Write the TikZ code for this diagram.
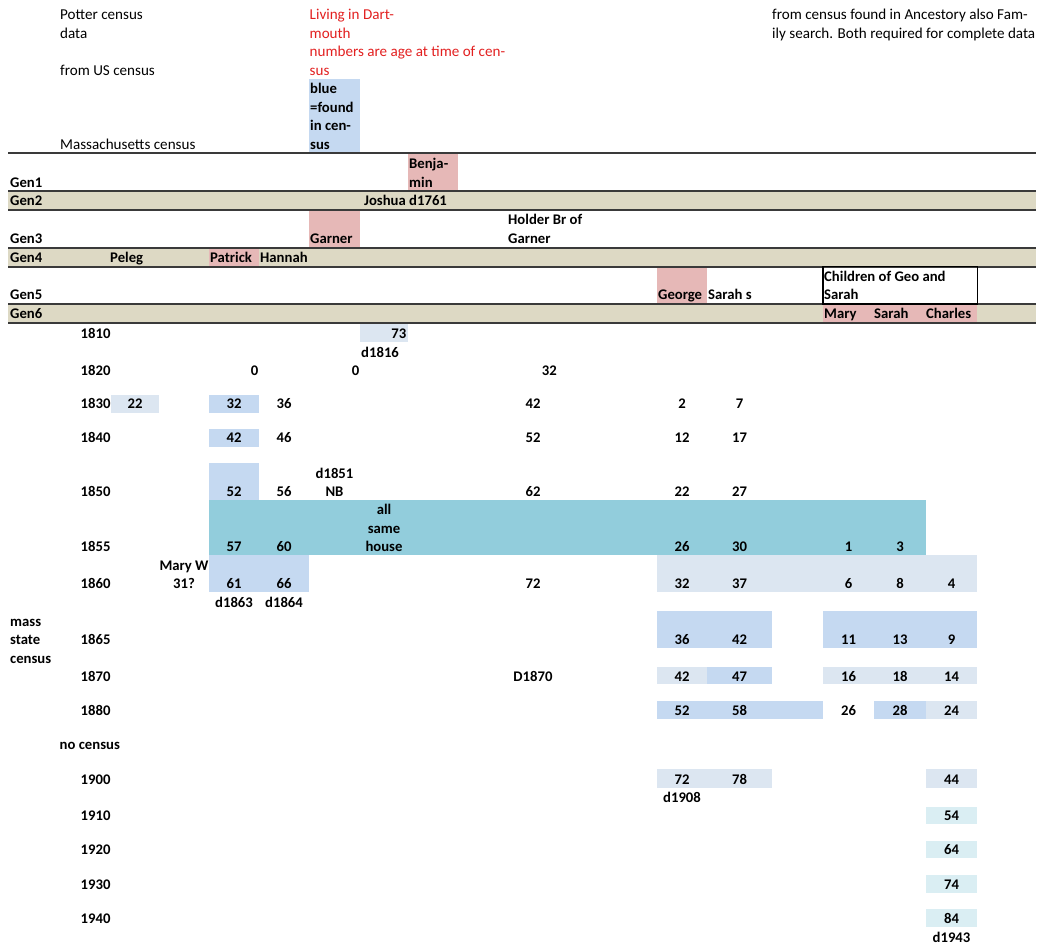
\documentclass[tikz,border=0pt]{standalone}
\usepackage{fontspec}
\setmainfont{Carlito}
\definecolor{tan}{HTML}{DDD9C4}
\definecolor{pinkc}{HTML}{E6B8B7}
\definecolor{blueA}{HTML}{C5D9F1}
\definecolor{blueB}{HTML}{DCE6F1}
\definecolor{tealc}{HTML}{92CDDC}
\definecolor{cyanL}{HTML}{DAEEF3}
\definecolor{redtxt}{RGB}{226,32,32}
\definecolor{rule}{RGB}{58,58,58}
\tikzset{
  every node/.style={inner sep=0pt, font=\fontsize{14.7}{18.5}\selectfont},
  rg/.style={font=\fontsize{15.1}{18.5}\selectfont},
  bd/.style={font=\fontsize{14.7}{18.5}\selectfont\bfseries},
  rd/.style={text=redtxt},
  L/.style={anchor=base west},
  R/.style={anchor=base east},
  C/.style={anchor=base},
  hrule/.style={draw=rule, line width=1.8pt},
}
\begin{document}
\begin{tikzpicture}[x=1pt,y=-1pt]
\useasboundingbox (0,0) rectangle (1040,946);
% ---------- fills ----------
\fill[blueA] (309,79.3) rectangle (360,153.3);
\fill[pinkc] (408,153.3) rectangle (458,190.7);
\fill[tan] (8,190.7) rectangle (1036,210.3);
\fill[pinkc] (309,210.3) rectangle (360,247.7);
\fill[tan] (8,247.7) rectangle (1036,266.7);
\fill[pinkc] (209,247.7) rectangle (259,266.7);
\fill[pinkc] (657,266.7) rectangle (707,304);
\fill[tan] (8,304) rectangle (1036,323.3);
\fill[pinkc] (823,304) rectangle (977,323.3);
\fill[blueB] (360,323.3) rectangle (408,341.7);
\fill[blueB] (111,395) rectangle (159,413);
\fill[blueA] (209,395) rectangle (259,413);
\fill[blueA] (209,429) rectangle (259,447);
\fill[blueA] (209,463) rectangle (259,500);
\fill[tealc] (209,500) rectangle (926,555);
\fill[blueA] (209,555) rectangle (309,592);
\fill[blueB] (657,555) rectangle (977,592);
\fill[blueA] (657,611) rectangle (772,648);
\fill[blueA] (823,611) rectangle (977,648);
\fill[blueB] (657,666.7) rectangle (707,684.3);
\fill[blueA] (707,666.7) rectangle (772,684.3);
\fill[blueB] (823,666.7) rectangle (977,684.3);
\fill[blueA] (657,700.7) rectangle (823,719);
\fill[blueA] (874,700.7) rectangle (926,719);
\fill[blueB] (926,700.7) rectangle (977,719);
\fill[blueB] (657,769.3) rectangle (772,787.7);
\fill[blueB] (926,769.3) rectangle (977,787.7);
\fill[cyanL] (926,806.7) rectangle (977,824.3);
\fill[cyanL] (926,840.7) rectangle (977,858.3);
\fill[cyanL] (926,875) rectangle (977,892.7);
\fill[cyanL] (926,909.3) rectangle (977,926.7);
% ---------- rules ----------
\foreach \yy in {153.3,190.7,210.3,247.7,266.7,304,323.3}
  \draw[hrule] (8,\yy) -- (1036,\yy);
\draw[black, line width=1.2pt] (823,266.7) rectangle (977.5,304);
% ---------- header texts ----------
\node[rg,L] (h1) at (60,19.5) {Potter census};
\node[rg,L] (h2) at (60,38) {data};
\node[rg,L] (h3) at (60,75) {from US census};
\node[rg,L] (h4) at (60,149) {Massachusetts census};
\node[rg,rd,L] (r1) at (309.5,19.5) {Living in Dart-};
\node[rg,rd,L] (r2) at (309.5,38) {mouth};
\node[rg,rd,L] (r3) at (309.5,56.5) {numbers are age at time of cen-};
\node[rg,rd,L] (r4) at (309.5,75) {sus};
\node[bd,L] (bl1) at (310,93.5) {blue};
\node[bd,L] (bl2) at (310,112) {=found};
\node[bd,L] (bl3) at (310,130.5) {in cen-};
\node[bd,L] (bl4) at (310,149) {sus};
\node[rg,L] (s1) at (772,19.5) {from census found in Ancestory also Fam-};
\node[rg,L] (s2) at (772,38) {ily search. Both required for complete data};
% ---------- generations ----------
\node[bd,L] (g1) at (10,187) {Gen1};
\node[bd,L] (g2) at (10,205) {Gen2};
\node[bd,L] (g3) at (10,243) {Gen3};
\node[bd,L] (g4) at (10,262) {Gen4};
\node[bd,L] (g5) at (10,299.5) {Gen5};
\node[bd,L] (g6) at (10,318.5) {Gen6};
\node[bd,L] (benj1) at (409,168.5) {Benja-};
\node[bd,L] (benj2) at (409,187) {min};
\node[bd,R] (joshua) at (406,205) {Joshua};
\node[bd,L] (d1761) at (409,205) {d1761};
\node[bd,L] (garner) at (310,243) {Garner};
\node[bd,L] (hold1) at (508,224.5) {Holder Br of};
\node[bd,L] (hold2) at (508,243) {Garner};
\node[bd,L] (peleg) at (110,262) {Peleg};
\node[bd,L] (patrick) at (210,262) {Patrick};
\node[bd,L] (hannah) at (260,262) {Hannah};
\node[bd,L] (george) at (658,299.5) {George};
\node[bd,L] (sarahs) at (708,299.5) {Sarah s};
\node[bd,L] (child1) at (824,281) {Children of Geo and};
\node[bd,L] (child2) at (824,299.5) {Sarah};
\node[bd,L] (mary) at (824,318.5) {Mary};
\node[bd,L] (sarah) at (874,318.5) {Sarah};
\node[bd,L] (charles) at (926,318.5) {Charles};
% ---------- years ----------
\foreach \yr/\yb in {1810/338,1820/375,1830/408.7,1840/442.7,1850/496,1855/551.5,1860/588.5,1865/644.5,1870/681,1880/715,1900/784,1910/820,1920/854.5,1930/889,1940/923.5}
  \node[bd,R] (y\yr) at (110.7,\yb) {\yr};
\node[bd,L] (mass1) at (10,626) {mass};
\node[bd,L] (mass2) at (10,644.5) {state};
\node[bd,L] (mass3) at (10,663) {census};
\node[bd,L] (nocensus) at (59.5,749.5) {no census};
% ---------- data ----------
% 1810
\node[bd,R] (a73) at (406.5,338) {73};
\node[bd,L] (d1816) at (361,357) {d1816};
% 1820
\node[bd,R] (a0a) at (258.5,375) {0};
\node[bd,R] (a0b) at (359.5,375) {0};
\node[bd,R] (a32k) at (557,375) {32};
% 1830
\node[bd,C] (a22) at (135,408.7) {22};
\node[bd,C] (a32e) at (234,408.7) {32};
\node[bd,C] (a36) at (284,408.7) {36};
\node[bd,C] (a42k) at (533,408.7) {42};
\node[bd,C] (a2) at (682,408.7) {2};
\node[bd,C] (a7) at (739.5,408.7) {7};
% 1840
\node[bd,C] (a42e) at (234,442.7) {42};
\node[bd,C] (a46) at (284,442.7) {46};
\node[bd,C] (a52k) at (533,442.7) {52};
\node[bd,C] (a12) at (682,442.7) {12};
\node[bd,C] (a17) at (739.5,442.7) {17};
% 1850
\node[bd,C] (d1851) at (334.5,478) {d1851};
\node[bd,C] (nb) at (334.5,496) {NB};
\node[bd,C] (a52e) at (234,496) {52};
\node[bd,C] (a56) at (284,496) {56};
\node[bd,C] (a62) at (533,496) {62};
\node[bd,C] (a22n) at (682,496) {22};
\node[bd,C] (a27) at (739.5,496) {27};
% 1855
\node[bd,C] (all1) at (384,514.5) {all};
\node[bd,C] (all2) at (384,533) {same};
\node[bd,C] (all3) at (384,551.5) {house};
\node[bd,C] (a57) at (234,551.5) {57};
\node[bd,C] (a60) at (284,551.5) {60};
\node[bd,C] (a26n) at (682,551.5) {26};
\node[bd,C] (a30) at (739.5,551.5) {30};
\node[bd,C] (a1) at (848.5,551.5) {1};
\node[bd,C] (a3) at (900,551.5) {3};
% 1860
\node[bd,C] (maryw1) at (184,570) {Mary W};
\node[bd,C] (maryw2) at (184,588.5) {31?};
\node[bd,C] (a61) at (234,588.5) {61};
\node[bd,C] (a66) at (284,588.5) {66};
\node[bd,C] (a72k) at (533,588.5) {72};
\node[bd,C] (a32n) at (682,588.5) {32};
\node[bd,C] (a37) at (739.5,588.5) {37};
\node[bd,C] (a6) at (848.5,588.5) {6};
\node[bd,C] (a8) at (900,588.5) {8};
\node[bd,C] (a4) at (951.5,588.5) {4};
\node[bd,C] (d1863) at (234,607) {d1863};
\node[bd,C] (d1864) at (284,607) {d1864};
% 1865
\node[bd,C] (a36n) at (682,644.5) {36};
\node[bd,C] (a42o) at (739.5,644.5) {42};
\node[bd,C] (a11) at (848.5,644.5) {11};
\node[bd,C] (a13) at (900,644.5) {13};
\node[bd,C] (a9) at (951.5,644.5) {9};
% 1870
\node[bd,C] (d1870) at (533,681) {D1870};
\node[bd,C] (a42n) at (682,681) {42};
\node[bd,C] (a47) at (739.5,681) {47};
\node[bd,C] (a16) at (848.5,681) {16};
\node[bd,C] (a18) at (900,681) {18};
\node[bd,C] (a14) at (951.5,681) {14};
% 1880
\node[bd,C] (a52n) at (682,715) {52};
\node[bd,C] (a58) at (739.5,715) {58};
\node[bd,C] (a26q) at (848.5,715) {26};
\node[bd,C] (a28) at (900,715) {28};
\node[bd,C] (a24) at (951.5,715) {24};
% 1900 onwards
\node[bd,C] (a72n) at (682,784) {72};
\node[bd,C] (a78) at (739.5,784) {78};
\node[bd,C] (a44) at (951.5,784) {44};
\node[bd,C] (d1908) at (682,802.5) {d1908};
\node[bd,C] (a54) at (951.5,820) {54};
\node[bd,C] (a64) at (951.5,854.5) {64};
\node[bd,C] (a74) at (951.5,889) {74};
\node[bd,C] (a84) at (951.5,923.5) {84};
\node[bd,C] (d1943) at (951.5,942) {d1943};
\end{tikzpicture}
\end{document}
